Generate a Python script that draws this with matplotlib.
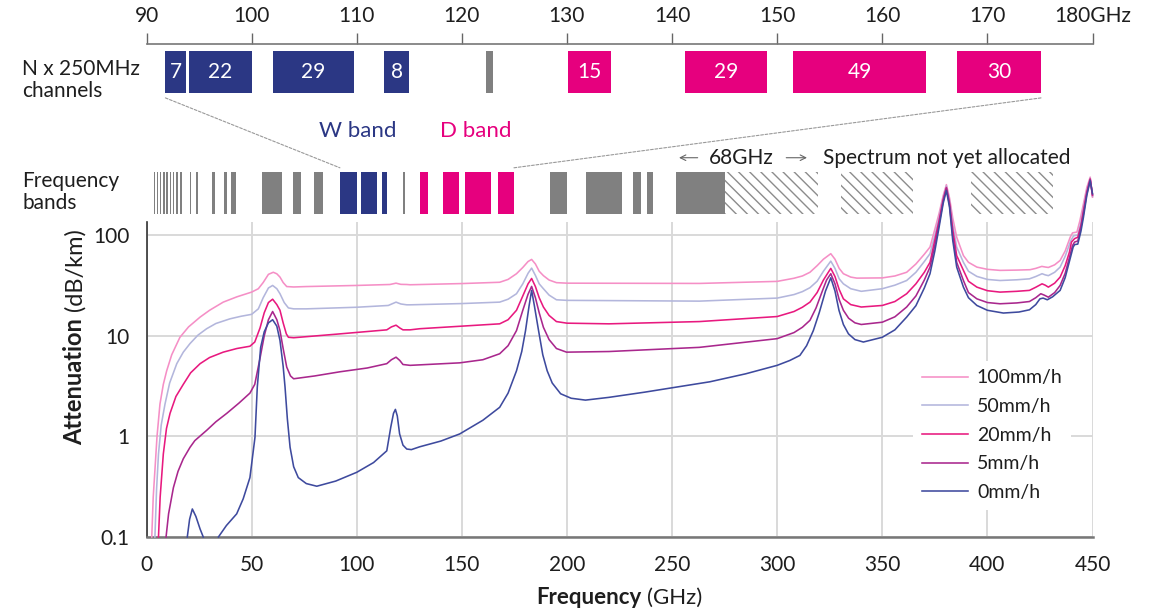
import matplotlib
matplotlib.use("Agg")
import matplotlib.pyplot as plt
from matplotlib.patches import ConnectionPatch

plt.rcParams['font.family'] = ['Lato', 'DejaVu Sans']
plt.rcParams['hatch.linewidth'] = 1.0

# ---------------- data ----------------
series_labels = ["100mm/h", "50mm/h", "20mm/h", "5mm/h", "0mm/h"]
series_colors = ["#f58fc6", "#b3b6dc", "#e8197f", "#a9278d", "#3e4a9e"]

f_100 = [2.5, 3.2, 4.0, 5, 6.4, 8, 9.6, 12, 15.9, 20, 25.5, 30, 36.5, 43, 50, 53.2, 55.5, 58, 60.3, 62, 63.5, 65, 66.7, 70, 76,
         100, 115.8, 118.7, 121, 123.8, 125.4, 150, 168, 172, 176, 179, 181.5, 183.2, 185, 186.8, 188.8, 191.5, 195, 200, 263,
         300, 308, 312, 315.6, 319, 322, 325.5, 327.5, 329.5, 331.5, 335, 337.9, 350, 356, 361.6, 366, 370, 372.7, 375, 377,
         379, 380.5, 382, 383.5, 385.4, 388.6, 391, 395, 400, 406, 414, 420.3, 423, 425.9, 427.5, 429, 432, 434.6, 437, 439.4,
         440.5, 442.6, 444, 445.7, 447.3, 448.9, 450]
a_100 = [0.1, 0.25, 0.46, 1.0, 2.1, 3.3, 4.5, 6.5, 9.7, 12.3, 15.4, 18, 21.7, 24.5, 27.3, 29.5, 34, 41, 43, 41.5, 38.5, 34, 31, 30.7, 31,
         31.8, 32.5, 33.5, 32.6, 32.5, 32.3, 33.2, 34.2, 36.5, 41.6, 48, 55, 57.7, 52, 44, 39.8, 36, 33.9, 33.5, 33.3,
         34.9, 37.5, 39.5, 43, 50, 58, 65.8, 58, 47, 41.6, 38.5, 37.6, 37.8, 39.5, 43, 52, 65, 76.6, 115, 165,
         250, 320, 235, 150, 96, 63, 54, 48.4, 46, 44.9, 45.2, 45.6, 47, 49.2, 48.5, 48, 51, 56.4, 70, 96,
         106, 108, 140, 207, 300, 380, 240]

f_50 = [4.0, 4.8, 5.7, 7, 8.8, 11, 14.4, 17.5, 20.7, 24.5, 28.6, 33, 39.7, 45, 50, 53.2, 55.5, 58, 60, 62, 63.5, 65.5, 67.5, 70, 76,
        100, 115, 118.7, 121, 123.8, 125.4, 150, 168, 172, 176, 179, 181.5, 183.2, 185, 186.8, 188.8, 191.5, 195, 200, 263,
        300, 308, 312, 315.6, 319, 322, 325.5, 327.5, 329.5, 331.5, 335, 340, 350, 356, 361.6, 366, 370, 372.7, 375, 377,
        379, 380.5, 382, 383.5, 385.4, 388.6, 391, 395, 400, 406, 414, 420, 423, 426, 427.5, 429, 432, 434.6, 437, 439.7,
        441, 443, 444.5, 445.7, 447.3, 448.9, 450]
a_50 = [0.1, 0.3, 0.67, 1.3, 2.1, 3.4, 5.3, 6.9, 8.4, 10.2, 11.8, 13.3, 14.8, 15.7, 16.4, 18.6, 24, 30, 31.8, 29.5, 26.3, 21.5, 19, 18.6, 18.6,
        19.3, 20.1, 21.7, 20.8, 20.4, 20.4, 21, 21.7, 23.2, 26.3, 33, 42, 47.3, 40, 33, 29.5, 25.5, 22.9, 22.6, 22.2,
        23.8, 25.8, 27.6, 30.2, 35, 44, 55.5, 47, 37, 33, 29.5, 27.8, 29.5, 32, 35.6, 43, 55, 65.8, 100, 150,
        240, 310, 220, 130, 76.6, 54, 44, 39.1, 36.5, 35.6, 36.2, 37, 39, 41.6, 40.5, 39.8, 43, 48.4, 62, 89,
        99, 101, 135, 191, 280, 370, 245]

f_20 = [5.7, 6.5, 8, 9.5, 11.2, 14, 17.5, 21, 25.5, 30, 36.5, 43, 49.2, 51.5, 54, 56, 58, 60, 62, 63.5, 65, 66.5, 67.5, 70,
        90, 114.3, 116.5, 118.7, 120.5, 122, 125.4, 130, 168, 172, 176, 179, 181.5, 183.2, 185, 186.8, 188.8, 191.5, 195, 200,
        220, 263, 300, 308, 312, 315.6, 319, 322, 325.5, 327.5, 329.5, 331.5, 335, 340, 350, 356, 361.6, 366, 370, 372.7, 375,
        377, 379, 380.5, 382, 383.5, 385.4, 388.6, 391, 395, 400, 406, 414, 420, 423, 426, 427.5, 429, 432, 434.6, 437, 439,
        440, 441.5, 443, 444.5, 445.7, 447.3, 448.9, 450]
a_20 = [0.1, 0.25, 0.67, 1.2, 1.7, 2.5, 3.3, 4.3, 5.3, 6.1, 6.9, 7.5, 7.9, 8.7, 12, 17, 21.5, 23.2, 20.5, 18, 13.5, 10.5, 9.7, 9.6,
        10.4, 11.5, 12.3, 12.8, 12.0, 11.5, 11.5, 11.8, 13.2, 14.5, 18, 25, 33, 37.3, 31, 24, 19.4, 16, 13.9, 13.4,
        13.2, 13.9, 15.6, 17.5, 19.3, 21.7, 27, 36, 47, 39, 29, 23.4, 20.5, 19.4, 20.1, 22, 26.3, 33, 43, 54, 90,
        140, 230, 300, 210, 115, 63, 44.9, 35, 30.6, 28.2, 27.3, 27.8, 28.4, 30.5, 33, 32, 30.6, 33.5, 38.5, 50, 68,
        86, 93, 96, 125, 177, 270, 365, 250]

f_5 = [9.3, 10.5, 12.8, 15, 17.5, 20.7, 23, 28.6, 33, 38.2, 44, 49.2, 51.5, 54, 56, 58, 60, 62, 63.5, 65, 66.7, 68.5, 70, 80,
       92, 105, 114.3, 116.5, 118.7, 120.5, 122, 125.4, 149, 160, 168, 172, 176, 179, 181.5, 183.2, 185, 186.8, 188.8, 191.5,
       195, 199.8, 220, 263, 300, 308, 312, 315.6, 318.5, 321.5, 323.5, 325.5, 327.5, 329.5, 331.5, 334, 337, 340, 350, 356,
       361.6, 366, 370, 372.7, 375, 377, 379, 380.5, 382, 383.5, 385.4, 388.6, 391, 395, 400, 406, 414, 420, 423, 425.4, 427,
       429, 432, 434.6, 437, 439, 440.5, 441.5, 443, 444.5, 445.7, 447.3, 448.9, 450]
a_5 = [0.1, 0.17, 0.31, 0.45, 0.6, 0.78, 0.91, 1.15, 1.4, 1.7, 2.15, 2.7, 3.3, 6, 10, 14.5, 17.5, 14.5, 11.3, 7.5, 4.9, 4, 3.75, 4.0,
       4.4, 4.8, 5.3, 5.8, 6.15, 5.7, 5.2, 5.1, 5.4, 5.8, 6.65, 8, 11.3, 18, 26, 31.1, 24, 17, 12.2, 9.2,
       7.5, 6.9, 7.0, 7.7, 9.4, 10.8, 12.2, 14.3, 19, 28, 36, 41.6, 33, 23, 18, 15, 13.5, 13, 13.7, 15.5,
       19.4, 25, 36, 48.4, 80, 130, 220, 295, 200, 100, 54, 35.6, 27, 23.4, 21.5, 20.9, 21.3, 22, 24, 26.3, 25.5,
       24.3, 27, 31.8, 42, 60, 79.4, 86, 88, 120, 164, 260, 360, 255]

f_0a = [19.4, 20.5, 21.8, 23.5, 25.5, 27]
a_0a = [0.1, 0.15, 0.19, 0.16, 0.12, 0.1]
f_0 = [34.2, 38, 42.9, 46, 49.2, 51.6, 52.7, 54.3, 56, 58, 60, 62, 63.5, 65, 65.9, 67, 68.3, 70, 72.2, 76, 81, 90, 100, 108,
       114.3, 116.2, 117.5, 118.4, 119.3, 120.4, 122, 123.8, 126, 130, 140, 149, 160, 168, 172, 176, 178.5, 180.3, 182, 183.2,
       184.5, 186.5, 188.5, 190.6, 193, 197, 202, 208.8, 220, 237, 250, 268, 285, 300, 306, 310.8, 314, 317.2, 320, 323,
       325.5, 327.5, 329.4, 331.5, 333.9, 337, 341, 350, 356, 361.6, 366, 370, 372.7, 375, 377, 379, 380.5, 382, 383.5,
       385.4, 388.6, 391, 395, 400, 407.6, 415, 420, 423, 425, 426.5, 428.5, 431, 434.6, 437, 439, 440.8, 441.5, 443,
       444.5, 445.7, 447.3, 448.9, 450]
a_0 = [0.1, 0.13, 0.17, 0.24, 0.39, 0.98, 3.1, 7.7, 11, 13.5, 14.5, 12.5, 9, 5, 3.1, 1.5, 0.78, 0.5, 0.39, 0.34, 0.32, 0.36, 0.44, 0.55,
       0.72, 1.24, 1.7, 1.86, 1.6, 1.06, 0.82, 0.75, 0.74, 0.79, 0.9, 1.06, 1.45, 1.95, 2.7, 4.5, 7, 11.3, 20, 28.4,
       20, 11.3, 6.5, 4.5, 3.4, 2.66, 2.4, 2.3, 2.45, 2.76, 3.05, 3.5, 4.2, 5.1, 5.7, 6.4, 8, 11.3, 17, 28,
       37.9, 28, 18, 13, 10.5, 9.2, 8.7, 9.7, 11.5, 15.4, 20, 30, 41.6, 70, 120, 210, 280, 190, 90,
       48.4, 30.6, 24, 20.1, 18, 16.9, 17.3, 18.2, 20.5, 23.4, 23.8, 22.9, 24.5, 28.4, 38, 55, 76.6, 81, 82,
       110, 152, 250, 350, 260]

x_ticks = [0, 50, 100, 150, 200, 250, 300, 350, 400, 450]
y_ticks = [0.1, 1, 10, 100]
y_ticklabels = ["0.1", "1", "10", "100"]

# channel plan (GHz on 90-180 axis) and channel counts
ch_start = [91.8, 94.0, 102.0, 112.6, 130.1, 141.2, 151.5, 167.1]
ch_end = [93.8, 100.0, 109.7, 115.0, 134.2, 149.0, 164.2, 175.1]
ch_count = ["7", "22", "29", "8", "15", "29", "49", "30"]
ch_band = ["W", "W", "W", "W", "D", "D", "D", "D"]
ch_gray = [(122.3, 123.0)]
top_ticks = [90, 100, 110, 120, 130, 140, 150, 160, 170, 180]
top_ticklabels = ["90", "100", "110", "120", "130", "140", "150", "160", "170", "180GHz"]

# frequency band row (GHz on 0-450 axis)
bands_gray = [(3.5, 4.2), (5.0, 5.5), (6.4, 7.0), (8.0, 8.6), (9.5, 10.3), (11.0, 11.6), (12.4, 13.2), (14.2, 14.8),
              (16.0, 17.0), (20.5, 21.2), (23.5, 24.6), (31.0, 32.5), (37.0, 38.5), (40.0, 42.5),
              (55.0, 64.5), (69.5, 73.5), (79.5, 84.0), (122.25, 123.0),
              (191.8, 200.0), (209.0, 226.0), (231.5, 235.0), (238.0, 241.0), (252.0, 275.0)]
bands_w = [(92.0, 94.0), (94.1, 100.0), (102.0, 109.5), (111.8, 114.25)]
bands_d = [(130.0, 134.0), (141.0, 148.5), (151.5, 164.0), (167.0, 174.8)]
bands_unalloc = [(275.0, 319.5), (330.5, 364.5), (392.0, 431.0)]

NAVY = "#2b3784"
MAGENTA = "#e6007e"
GRAY = "#808080"
TXT = "#1e1e1e"

# ---------------- figure ----------------
W, H = 1153, 611
fig = plt.figure(figsize=(W / 100, H / 100), dpi=100)


def fx(px):
    return px / W


def fy(py):
    return 1 - py / H


L, R = 146.5, 1092.5

# main chart
ax = fig.add_axes([fx(L), fy(537), (R - L) / W, (537 - 222) / H])
ax.set_yscale("log")
ax.set_xlim(0, 450)
ax.set_ylim(0.1, 136)

series = [(f_100, a_100), (f_50, a_50), (f_20, a_20), (f_5, a_5), (f_0, a_0)]
handles = []
for (fv, av), lab, col in zip(series, series_labels, series_colors):
    ln, = ax.plot(fv, av, color=col, lw=1.15, clip_on=False, zorder=3, label=lab)
    handles.append(ln)
ax.plot(f_0a, a_0a, color=series_colors[-1], lw=1.15, clip_on=False, zorder=3)

ax.set_xticks(x_ticks)
ax.set_xticklabels([str(v) for v in x_ticks])
ax.set_yticks(y_ticks)
ax.set_yticklabels(y_ticklabels)
ax.minorticks_off()
ax.tick_params(axis="both", length=0, labelsize=15, labelcolor=TXT)
ax.tick_params(axis="x", pad=13)
ax.tick_params(axis="y", pad=12)
ax.grid(True, color="#d9d9d9", lw=1.4, zorder=0)
ax.set_axisbelow(True)
for s in ["top", "right"]:
    ax.spines[s].set_visible(False)
ax.spines["left"].set_color("#333333")
ax.spines["left"].set_linewidth(1.2)
ax.spines["bottom"].set_color("#777777")
ax.spines["bottom"].set_linewidth(1.8)

leg = ax.legend(handles=handles, labels=series_labels, loc="upper left", bbox_to_anchor=(0.81, 0.56),
                frameon=True, facecolor="white", edgecolor="none", framealpha=1, fancybox=False,
                fontsize=14, handlelength=2.4, handletextpad=0.45, labelspacing=0.6, borderpad=0.45,
                borderaxespad=0)
for t in leg.get_texts():
    t.set_color(TXT)
leg.set_zorder(5)

# axis titles (mixed weight)
fig.text(fx(641), fy(598), "Frequency", ha="right", va="center", fontsize=16, fontweight="bold", color=TXT)
fig.text(fx(647), fy(598), "(GHz)", ha="left", va="center", fontsize=16, color=TXT)
fig.text(fx(75), fy(318), "Attenuation", ha="center", va="top", rotation=90, fontsize=17,
         fontweight="bold", color=TXT)
fig.text(fx(75), fy(311), "(dB/km)", ha="center", va="bottom", rotation=90, fontsize=17, color=TXT)

# frequency band row
axb = fig.add_axes([fx(L), fy(214), (R - L) / W, 42 / H])
axb.set_xlim(0, 450)
axb.set_ylim(0, 1)
axb.axis("off")
axb.broken_barh([(a, b - a) for a, b in bands_gray], (0, 1), facecolors=GRAY, lw=0)
axb.broken_barh([(a, b - a) for a, b in bands_w], (0, 1), facecolors=NAVY, lw=0)
axb.broken_barh([(a, b - a) for a, b in bands_d], (0, 1), facecolors=MAGENTA, lw=0)
axb.broken_barh([(a, b - a) for a, b in bands_unalloc], (0, 1), facecolors="white",
                edgecolor="#8c8c8c", hatch="\\\\\\", lw=0)

axb.annotate("", xy=(252, 1.34), xytext=(263.5, 1.34), xycoords="data",
             arrowprops=dict(arrowstyle="->", color="#666666", lw=0.8), annotation_clip=False)
axb.annotate("", xy=(315.5, 1.34), xytext=(303, 1.34), xycoords="data",
             arrowprops=dict(arrowstyle="->", color="#666666", lw=0.8), annotation_clip=False)
fig.text(fx(741), fy(158), "68GHz", ha="center", va="center", fontsize=15, color=TXT)
fig.text(fx(823), fy(158), "Spectrum not yet allocated", ha="left", va="center", fontsize=15, color=TXT)

fig.text(fx(22), fy(192), "Frequency\nbands", ha="left", va="center", fontsize=15, color=TXT, linespacing=1.15)
fig.text(fx(358), fy(131), "W band", ha="center", va="center", fontsize=16, color=NAVY)
fig.text(fx(476), fy(131), "D band", ha="center", va="center", fontsize=16, color=MAGENTA)

# channel plan row
axc = fig.add_axes([fx(L), fy(93), (R - L) / W, 49 / H])
axc.set_xlim(90, 180)
axc.set_ylim(0, 1)
box_top = 42 / 49
for a, b, n, band in zip(ch_start, ch_end, ch_count, ch_band):
    axc.bar(a, box_top, width=b - a, align="edge", color=NAVY if band == "W" else MAGENTA, lw=0)
    axc.text((a + b) / 2, box_top / 2, n, ha="center", va="center", color="white", fontsize=15)
for a, b in ch_gray:
    axc.bar(a, box_top, width=b - a, align="edge", color=GRAY, lw=0)
axc.xaxis.tick_top()
axc.set_xticks(top_ticks)
axc.set_xticklabels(top_ticklabels)
axc.set_yticks([])
axc.tick_params(axis="x", direction="out", length=8, width=1.0, color="#666666", pad=5,
                labelsize=15, labelcolor=TXT)
for s in ["bottom", "left", "right"]:
    axc.spines[s].set_visible(False)
axc.spines["top"].set_color("#777777")
axc.spines["top"].set_linewidth(1.2)

fig.text(fx(22), fy(80), "N x 250MHz\nchannels", ha="left", va="center", fontsize=15, color=TXT, linespacing=1.1)

# dashed zoom connectors
for xa, xb in [(ch_start[0], bands_w[0][0]), (ch_end[-1], bands_d[-1][1])]:
    con = ConnectionPatch(xyA=(xa, -0.1), coordsA=axc.transData, xyB=(xb, 1.1), coordsB=axb.transData,
                          color="#999999", lw=0.8, linestyle=(0, (2.5, 1.5)))
    fig.add_artist(con)

fig.savefig("out.png", dpi=100)
